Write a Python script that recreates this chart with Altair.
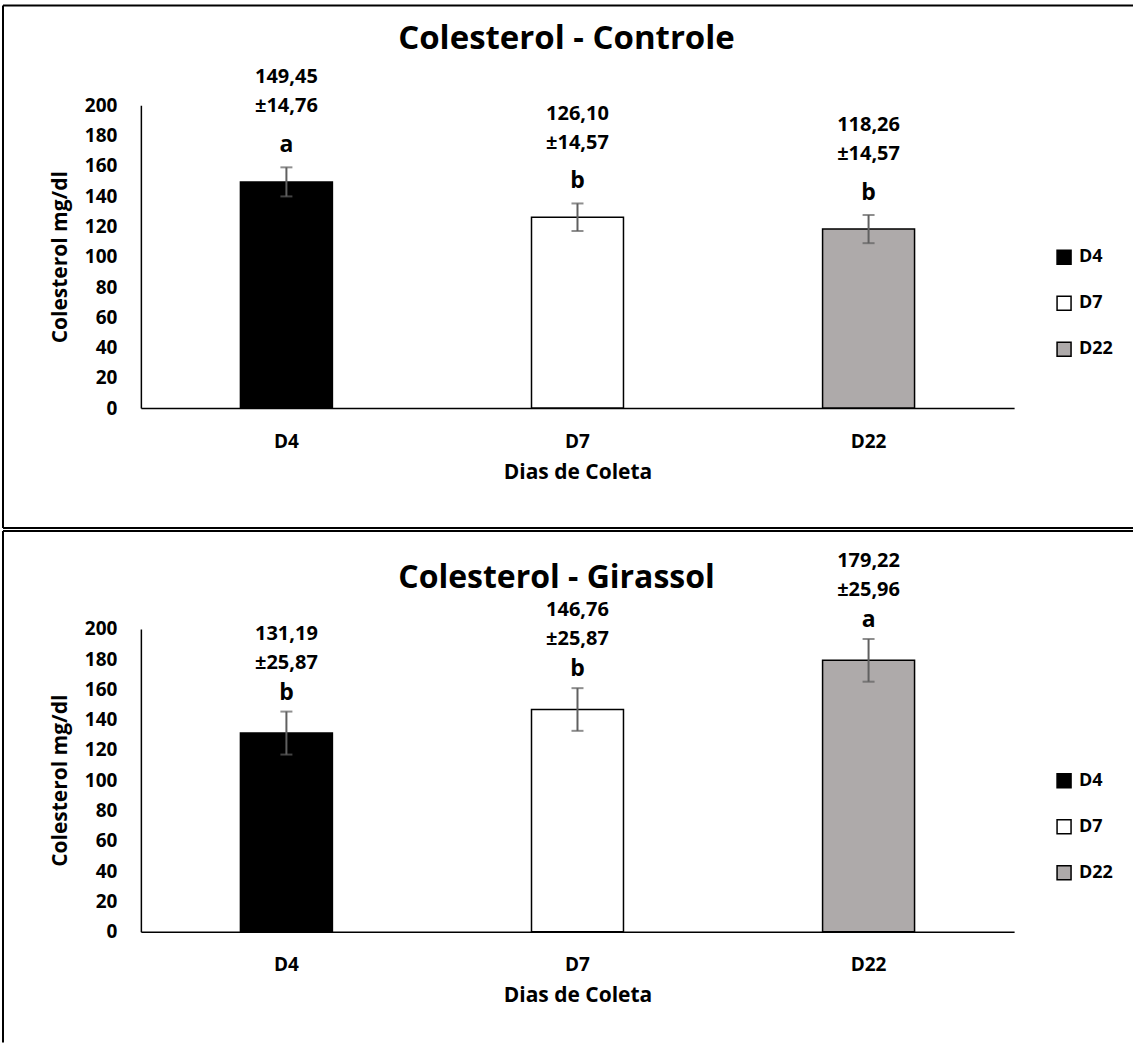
import altair as alt
import pandas as pd

# ---- data ----
dias = ["D4", "D7", "D22"]
ctrl_media = [149.45, 126.10, 118.26]
ctrl_dp = [14.76, 14.57, 14.57]
ctrl_erro = [9.6, 9.1, 9.3]
ctrl_letra = ["a", "b", "b"]
gir_media = [131.19, 146.76, 179.22]
gir_dp = [25.87, 25.87, 25.96]
gir_erro = [14.2, 14.1, 14.1]
gir_letra = ["b", "b", "a"]
titulos = ["Colesterol - Controle", "Colesterol - Girassol"]
y_ticks = list(range(0, 201, 20))
cores = ["#000000", "#FFFFFF", "#AEAAAA"]

FONT = "Open Sans"
W, H = 874, 303


def fmt(v):
    return f"{v:.2f}".replace(".", ",")


def painel(media, dp, erro, letra, titulo, title_xy, title_size, dys,
           frame_top, frame_bottom, bottom_line):
    df = pd.DataFrame({
        "Dia": dias,
        "media": media,
        "erro": erro,
        "letra": letra,
        "valor_txt": [fmt(v) for v in media],
        "dp_txt": ["±" + fmt(v) for v in dp],
    })
    base = alt.Chart(df).transform_calculate(
        lo="datum.media - datum.erro", hi="datum.media + datum.erro"
    )
    xaxis = alt.Axis(title="Dias de Coleta", labelAngle=0, ticks=False,
                     labelPadding=24, titlePadding=10, domainColor="black",
                     domainWidth=1.5, labelFontSize=19, titleFontSize=21,
                     labelFont=FONT, titleFont=FONT, labelFontWeight="bold",
                     titleFontWeight="bold", labelColor="black", titleColor="black")
    xscale = alt.Scale(paddingInner=0.684, paddingOuter=0.342)
    yscale = alt.Scale(domain=[0, 200], nice=False, zero=True)
    yaxis = alt.Axis(values=y_ticks, title="Colesterol mg/dl", grid=False, ticks=False,
                     labelPadding=24, titlePadding=14, domainColor="black",
                     domainWidth=1.5, labelFontSize=19, titleFontSize=21,
                     labelFont=FONT, titleFont=FONT, labelFontWeight="bold",
                     titleFontWeight="bold", labelColor="black", titleColor="black")

    def X():
        return alt.X("Dia:N", sort=dias, scale=xscale, axis=xaxis)

    def Y(f):
        return alt.Y(f, scale=yscale, axis=yaxis)

    bars = base.mark_bar(stroke="black", strokeWidth=1.5).encode(
        x=X(),
        y=Y("media:Q"),
        color=alt.Color(
            "Dia:N",
            scale=alt.Scale(domain=dias, range=cores),
            legend=alt.Legend(
                title=None, orient="none", legendX=915, legendY=143,
                symbolType="square", symbolSize=196, symbolStrokeColor="black",
                symbolStrokeWidth=1.5, symbolOpacity=1, labelFontSize=18,
                labelFontWeight="bold", labelFont=FONT, labelColor="black",
                rowPadding=26, padding=0, labelOffset=6,
            ),
        ),
    )
    rule = base.mark_rule(color="#606060", strokeWidth=2).encode(
        x=X(), y=Y("lo:Q"), y2="hi:Q")
    cap_hi = base.mark_tick(color="#606060", thickness=2, size=12).encode(
        x=X(), y=Y("hi:Q"))
    cap_lo = base.mark_tick(color="#606060", thickness=2, size=12).encode(
        x=X(), y=Y("lo:Q"))
    t_letra = base.mark_text(dy=dys[0], fontSize=23, fontWeight="bold",
                             baseline="alphabetic", font=FONT, color="black").encode(
        x=X(), y=Y("hi:Q"), text="letra:N")
    t_dp = base.mark_text(dy=dys[1], fontSize=20, fontWeight="bold",
                          baseline="middle", font=FONT, color="black").encode(
        x=X(), y=Y("hi:Q"), text="dp_txt:N")
    t_val = base.mark_text(dy=dys[2], fontSize=20, fontWeight="bold",
                           baseline="middle", font=FONT, color="black").encode(
        x=X(), y=Y("hi:Q"), text="valor_txt:N")

    one = alt.Chart(pd.DataFrame({"k": [0]}))
    titulo_mark = one.mark_text(fontSize=title_size, fontWeight="bold", font=FONT,
                                baseline="middle", color="black").encode(
        x=alt.value(title_xy[0]), y=alt.value(title_xy[1]), text=alt.value(titulo))
    frame_top_rule = one.mark_rule(color="black", strokeWidth=2).encode(
        x=alt.value(-138), x2=alt.value(993), y=alt.value(frame_top))
    frame_left_rule = one.mark_rule(color="black", strokeWidth=2).encode(
        x=alt.value(-138), y=alt.value(frame_top), y2=alt.value(frame_bottom))
    layers = [bars, rule, cap_hi, cap_lo, t_letra, t_dp, t_val, titulo_mark,
              frame_top_rule, frame_left_rule]
    if bottom_line:
        layers.append(one.mark_rule(color="black", strokeWidth=2).encode(
            x=alt.value(-138), x2=alt.value(993), y=alt.value(frame_bottom)))
    return alt.layer(*layers).properties(width=W, height=H)


top = painel(ctrl_media, ctrl_dp, ctrl_erro, ctrl_letra, titulos[0],
             (426, -66), 33, (-15, -61, -90), -100, 423, True)
bottom = painel(gir_media, gir_dp, gir_erro, gir_letra, titulos[1],
                (416, -51), 32, (-12, -49, -78), -98, 414, False)

chart = alt.vconcat(top, bottom, spacing=1).resolve_scale(
    color="independent"
).resolve_legend(color="independent").properties(
    padding={"left": 2, "top": 4, "right": 0, "bottom": 0},
    background="white",
).configure_view(stroke=None)

chart.save("out.html", embed_options={"renderer": "svg", "actions": False})
